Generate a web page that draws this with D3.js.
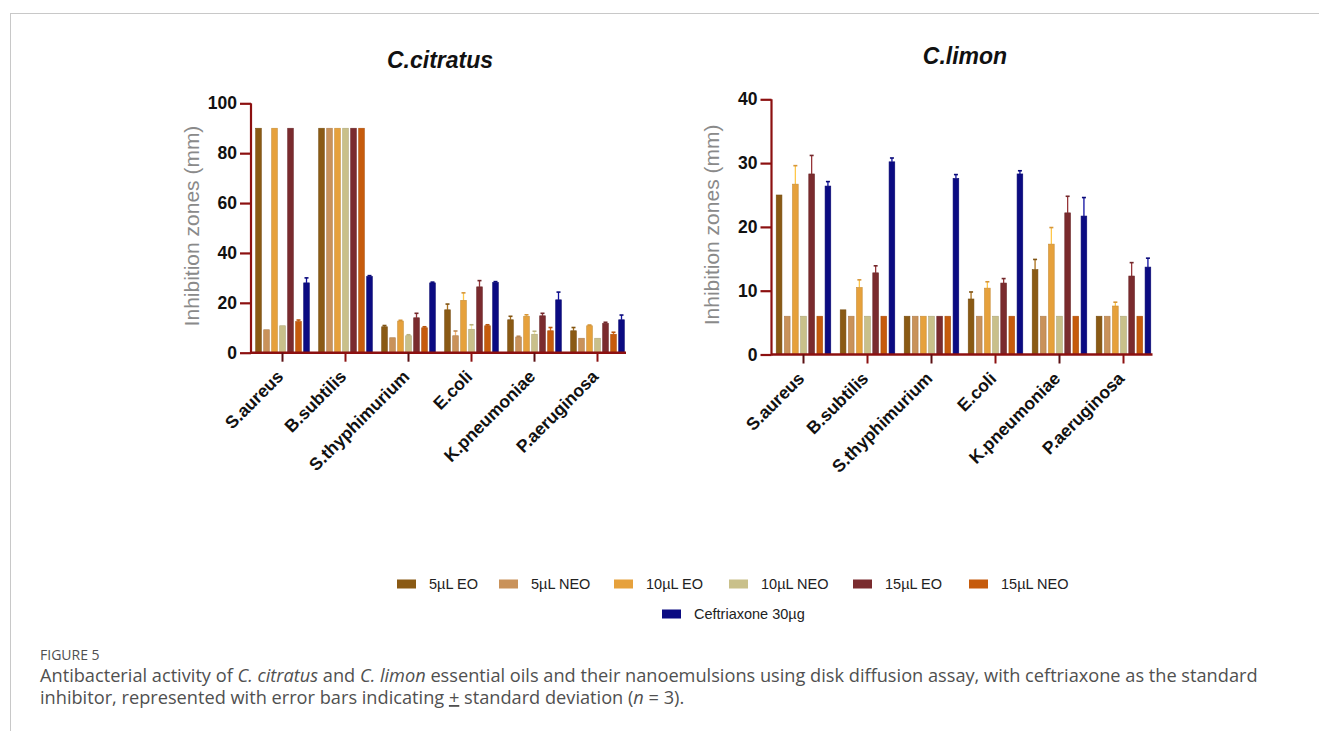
<!DOCTYPE html>
<html>
<head>
<meta charset="utf-8">
<script src="https://cdn.jsdelivr.net/npm/d3@7"></script>
<style>
  html, body { margin: 0; padding: 0; background: #fff; }
  svg { display: block; }
</style>
</head>
<body>
<svg id="fig" width="1319" height="731"></svg>
<script>
// Bacterial strains tested
const categories = ["S.aureus", "B.subtilis", "S.thyphimurium", "E.coli", "K.pneumoniae", "P.aeruginosa"];

// Treatments (one bar per treatment inside each strain group)
const seriesNames = ["5µL EO", "5µL NEO", "10µL EO", "10µL NEO", "15µL EO", "15µL NEO", "Ceftriaxone 30µg"];
const seriesColors = ["#8a5a14", "#c9925a", "#e6a13c", "#c9c08a", "#7a2b2e", "#c65b0c", "#0b0b82"];

// C. citratus: mean inhibition zone (mm), rows = strains, columns = treatments
const citratusMean = [
  [90, 9.2, 90, 10.8, 90, 12.5, 28.0],
  [90, 90, 90, 90, 90, 90, 30.6],
  [10.4, 6.0, 12.7, 6.8, 14.0, 10.0, 28.0],
  [17.2, 6.8, 21.0, 9.4, 26.4, 10.8, 28.2],
  [13.2, 6.3, 14.6, 7.4, 14.8, 8.8, 21.2],
  [8.8, 5.8, 10.8, 5.8, 11.8, 7.4, 13.2]
];
const citratusSD = [
  [0, 0, 0, 0, 0, 0.6, 2.0],
  [0, 0, 0, 0, 0, 0, 0.3],
  [0.5, 0, 0.3, 0.4, 1.8, 0.4, 0.3],
  [2.3, 1.9, 3.0, 1.8, 2.5, 0.4, 0.3],
  [1.4, 0.3, 0.6, 1.2, 1.0, 1.3, 3.1],
  [1.3, 0, 0.3, 0, 0.4, 0.8, 1.9]
];

// C. limon: mean inhibition zone (mm)
const limonMean = [
  [25.0, 6, 26.7, 6, 28.3, 6, 26.4],
  [7.0, 6, 10.5, 6, 12.8, 6, 30.2],
  [6, 6, 6, 6, 6, 6, 27.6],
  [8.7, 6, 10.4, 6, 11.2, 6, 28.3],
  [13.3, 6, 17.3, 6, 22.2, 6, 21.7],
  [6, 6, 7.6, 6, 12.3, 6, 13.7]
];
const limonSD = [
  [0, 0, 2.9, 0, 2.9, 0, 0.7],
  [0, 0, 1.2, 0, 1.1, 0, 0.6],
  [0, 0, 0, 0, 0, 0, 0.6],
  [1.1, 0, 1.0, 0, 0.7, 0, 0.5],
  [1.6, 0, 2.6, 0, 2.6, 0, 2.9],
  [0, 0, 0.6, 0, 2.1, 0, 1.4]
];

const citratusTicks = [0, 20, 40, 60, 80, 100];
const limonTicks = [0, 10, 20, 30, 40];

const svg = d3.select("#fig");
const AXIS = "#8c1010";
const AXIS_DARK = "#5a0f12";
const SANS = "Liberation Sans, Arial, sans-serif";

function drawPanel(opts) {
  const { title, mean, sd, yMax, ticks, x0, x1, yTop, yBottom, titleX, titleY } = opts;
  const g = svg.append("g");

  const x = d3.scaleBand().domain(categories).range([x0, x1]).paddingInner(0).paddingOuter(0);
  const xs = d3.scaleBand().domain(seriesNames).range([3.5, x.bandwidth() - 3.5]).paddingInner(0.3).paddingOuter(0.15);
  const y = d3.scaleLinear().domain([0, yMax]).range([yBottom, yTop]);

  // Bars with upper error whiskers
  categories.forEach((cat, ci) => {
    const grp = g.append("g").attr("transform", `translate(${x(cat)},0)`);
    seriesNames.forEach((s, si) => {
      const v = mean[ci][si];
      const e = sd[ci][si];
      const bx = xs(s);
      const bw = xs.bandwidth();
      const col = seriesColors[si];
      if (e > 0) {
        const cx = bx + bw / 2;
        grp.append("line")
          .attr("x1", cx).attr("x2", cx)
          .attr("y1", y(v)).attr("y2", y(v + e))
          .attr("stroke", d3.color(col).brighter(0.6))
          .attr("stroke-width", 1.3);
        grp.append("line")
          .attr("x1", cx - 2).attr("x2", cx + 2)
          .attr("y1", y(v + e)).attr("y2", y(v + e))
          .attr("stroke", d3.color(col).darker(0.2))
          .attr("stroke-width", 1.6);
      }
      grp.append("rect")
        .attr("x", bx).attr("width", bw)
        .attr("y", y(v)).attr("height", y(0) - y(v))
        .attr("fill", col)
        .attr("stroke", d3.color(col).darker(0.4))
        .attr("stroke-width", 0.6);
    });
  });

  // Y axis
  const yAxis = g.append("g").attr("transform", `translate(${x0},0)`)
    .call(d3.axisLeft(y).tickValues(ticks).tickSize(11).tickPadding(3));
  yAxis.select(".domain").attr("stroke", AXIS).attr("stroke-width", 2.2)
    .attr("d", `M0,${yTop}V${yBottom + 1}`);
  yAxis.selectAll(".tick line").attr("stroke", AXIS).attr("stroke-width", 2.2);
  yAxis.selectAll(".tick text")
    .attr("fill", "#111").attr("font-family", SANS)
    .attr("font-size", 17.5).attr("font-weight", "bold");

  // X axis
  const xAxis = g.append("g").attr("transform", `translate(0,${yBottom})`)
    .call(d3.axisBottom(x).tickSize(9).tickPadding(4));
  xAxis.select(".domain").attr("stroke", AXIS).attr("stroke-width", 2.4)
    .attr("d", `M${x0},0H${x1 - 3}`);
  xAxis.selectAll(".tick line").attr("stroke", (d, i) => i % 2 ? AXIS : AXIS_DARK).attr("stroke-width", 2);
  xAxis.selectAll(".tick text")
    .attr("fill", "#111").attr("font-family", SANS)
    .attr("font-size", 17.5).attr("font-weight", "bold")
    .attr("text-anchor", "end")
    .attr("dy", null)
    .attr("y", 0).attr("x", 0)
    .attr("transform", "translate(2,25) rotate(-45)");

  // Y title
  g.append("text")
    .attr("transform", `translate(${x0 - 60},${(yTop + yBottom) / 2 - 2}) rotate(-90)`)
    .attr("text-anchor", "middle")
    .attr("dominant-baseline", "central")
    .attr("font-family", SANS)
    .attr("font-size", 21)
    .attr("fill", "#8a8a8a")
    .text("Inhibition zones (mm)");

  // Panel title
  g.append("text")
    .attr("x", titleX).attr("y", titleY)
    .attr("text-anchor", "middle")
    .attr("font-family", SANS)
    .attr("font-size", 23).attr("font-weight", "bold").attr("font-style", "italic")
    .attr("fill", "#111")
    .text(title);
}

drawPanel({
  title: "C.citratus", mean: citratusMean, sd: citratusSD, yMax: 100, ticks: citratusTicks,
  x0: 251, x1: 629, yTop: 103.3, yBottom: 352.7, titleX: 440, titleY: 68
});
drawPanel({
  title: "C.limon", mean: limonMean, sd: limonSD, yMax: 40, ticks: limonTicks,
  x0: 771.5, x1: 1155.5, yTop: 99.3, yBottom: 354.5, titleX: 965, titleY: 64
});

// Legend
const legendItems = [
  { i: 0, x: 397, y: 584 }, { i: 1, x: 499, y: 584 }, { i: 2, x: 614, y: 584 },
  { i: 3, x: 729, y: 584 }, { i: 4, x: 853, y: 584 }, { i: 5, x: 969, y: 584 },
  { i: 6, x: 662, y: 614 }
];
const lg = svg.append("g");
legendItems.forEach(it => {
  lg.append("rect").attr("x", it.x).attr("y", it.y - 4.5).attr("width", 19).attr("height", 9)
    .attr("fill", seriesColors[it.i]);
  lg.append("text").attr("x", it.x + 32).attr("y", it.y)
    .attr("dominant-baseline", "central")
    .attr("font-family", SANS)
    .attr("font-size", 14.5).attr("fill", "#222")
    .text(seriesNames[it.i]);
});

// Frame lines
svg.append("line").attr("x1", 10).attr("x2", 1319).attr("y1", 13.5).attr("y2", 13.5)
  .attr("stroke", "#c8c8c8").attr("stroke-width", 1);
svg.append("line").attr("x1", 10.5).attr("x2", 10.5).attr("y1", 13).attr("y2", 731)
  .attr("stroke", "#c8c8c8").attr("stroke-width", 1);

// Caption
const capFont = "'Open Sans', Lato, sans-serif";
svg.append("text").attr("x", 40).attr("y", 660)
  .attr("font-family", capFont).attr("font-size", 14).attr("fill", "#505050")
  .text("FIGURE 5");

const cap1 = svg.append("text").attr("x", 40).attr("y", 682)
  .attr("font-family", capFont).attr("font-size", 18.2).attr("fill", "#505050");
cap1.append("tspan").text("Antibacterial activity of ");
cap1.append("tspan").attr("font-style", "italic").text("C. citratus");
cap1.append("tspan").text(" and ");
cap1.append("tspan").attr("font-style", "italic").text("C. limon");
cap1.append("tspan").text(" essential oils and their nanoemulsions using disk diffusion assay, with ceftriaxone as the standard");

const cap2 = svg.append("text").attr("x", 40).attr("y", 704)
  .attr("font-family", capFont).attr("font-size", 18.2).attr("fill", "#505050");
cap2.append("tspan").text("inhibitor, represented with error bars indicating ");
cap2.append("tspan").attr("text-decoration", "underline").text("+");
cap2.append("tspan").text(" standard deviation (");
cap2.append("tspan").attr("font-style", "italic").text("n");
cap2.append("tspan").text(" = 3).");
</script>
</body>
</html>
